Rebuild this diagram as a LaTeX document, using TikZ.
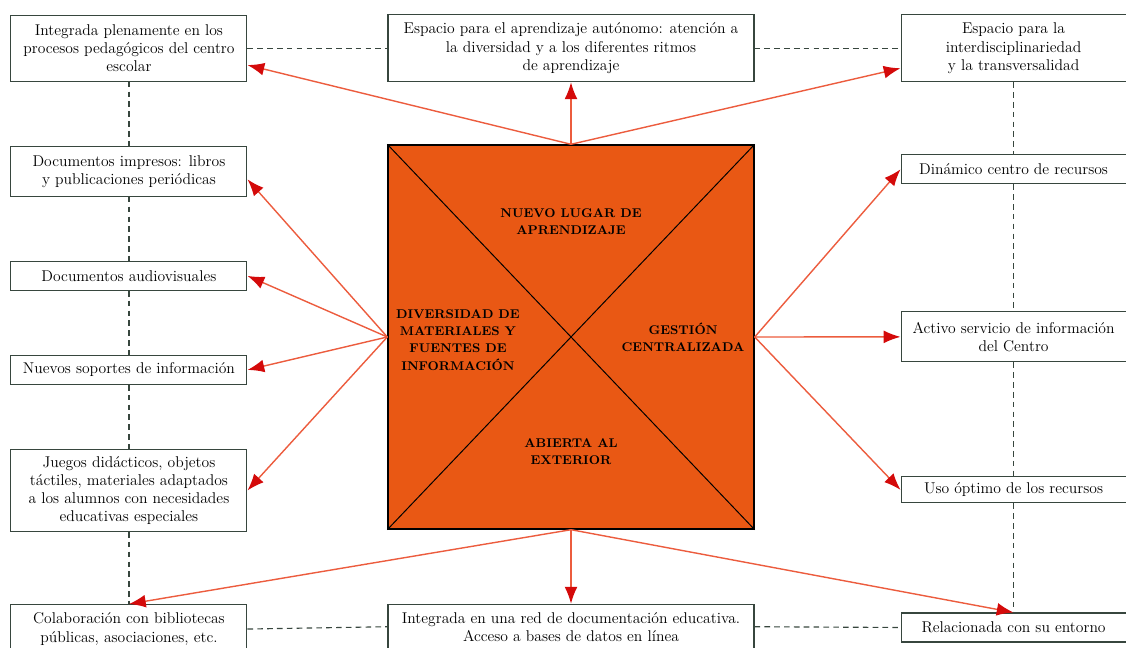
\documentclass[tikz,border=0pt]{standalone}
\usepackage{tikz}
\usetikzlibrary{positioning,arrows.meta}
\definecolor{sqorange}{RGB}{233,88,20}
\definecolor{arrowline}{RGB}{236,92,62}
\definecolor{arrowred}{RGB}{212,10,10}
\definecolor{boxline}{RGB}{55,70,62}
\tikzset{every node/.style={align=center, font=\fontsize{11.1}{12.9}\selectfont}, >={Latex[length=4.2mm,width=3.2mm,color=arrowred]}}
\tikzset{
  infobox/.style={draw=boxline, line width=0.75pt, fill=white, minimum width=5.9cm, inner sep=1pt},
  sqtext/.style={font=\fontsize{9}{12.3}\selectfont\bfseries},
  arr/.style={->, draw=arrowline, line width=1pt},
  dotline/.style={draw=boxline, dash pattern=on 4pt off 3pt, line width=0.8pt}
}

\begin{document}
\begin{tikzpicture}[node distance=1.6cm]
  \useasboundingbox (0,0) rectangle (28.15,16.2);
  % central square
  \node [draw=black, line width=1pt, fill=sqorange, minimum width=9.15cm, minimum height=9.6cm, inner sep=0] (sq) at (14.275,7.775) {};
  \draw [line width=0.7pt] (sq.north west) -- (sq.south east) (sq.north east) -- (sq.south west);
  \node [sqtext] (nuevo) at ([yshift=2.875cm]sq.center) {NUEVO LUGAR DE\\APRENDIZAJE};
  \node [sqtext] (divers) at ([xshift=-2.825cm,yshift=-0.075cm]sq.center) {DIVERSIDAD DE\\MATERIALES Y\\FUENTES DE\\INFORMACIÓN};
  \node [sqtext] (gestion) at ([xshift=2.8cm]sq.center) {GESTIÓN\\CENTRALIZADA};
  \node [sqtext] (abierta) at ([yshift=-2.875cm]sq.center) {ABIERTA AL\\EXTERIOR};

  % top and bottom boxes
  \node [infobox, minimum width=9.15cm, minimum height=1.675cm] (tc) [above=1.55cm of sq] {Espacio para el aprendizaje autónomo: atención a\\la diversidad y a los diferentes ritmos\\de aprendizaje};
  \node [infobox, minimum width=9.15cm, minimum height=1.125cm] (bc) [below=1.85cm of sq] {Integrada en una red de documentación educativa.\\Acceso a bases de datos en línea};

  % left column
  \node [infobox, minimum height=1.65cm] (l1) [left=3.5cm of tc] {Integrada plenamente en los\\procesos pedagógicos del centro\\escolar};
  \node [infobox, minimum height=1.25cm] (l2) [below=of l1] {Documentos impresos: libros\\y publicaciones periódicas};
  \node [infobox, minimum height=0.725cm] (l3) [below=of l2] {Documentos audiovisuales};
  \node [infobox, minimum height=0.725cm] (l4) [below=of l3] {Nuevos soportes de información};
  \node [infobox, minimum height=2.05cm] (l5) [below=of l4] {Juegos didácticos, objetos\\táctiles, materiales adaptados\\a los alumnos con necesidades\\educativas especiales};
  \node [infobox, minimum height=1.225cm] (l6) [below=1.8cm of l5] {Colaboración con bibliotecas\\públicas, asociaciones, etc.};

  % right column
  \node [infobox, minimum width=5.625cm, minimum height=1.675cm] (tr) [right=3.65cm of tc] {Espacio para la\\interdisciplinariedad\\y la transversalidad};
  \node [infobox, minimum width=5.625cm, minimum height=0.725cm] (rd) [below=1.8cm of tr] {Dinámico centro de recursos};
  \node [infobox, minimum width=5.625cm, minimum height=1.25cm] (ra) [below=3.175cm of rd] {Activo servicio de información\\del Centro};
  \node [infobox, minimum width=5.625cm, minimum height=0.65cm] (ru) [below=2.85cm of ra] {Uso óptimo de los recursos};
  \node [infobox, minimum width=5.625cm, minimum height=0.725cm] (rr) [below=2.725cm of ru] {Relacionada con su entorno};

  % dashed frame
  \draw [dotline] (l1) -- (l2) (l2) -- (l3) (l3) -- (l4) (l4) -- (l5) (l5) -- (l6);
  \draw [dotline] (tr) -- (rd) (rd) -- (ra) (ra) -- (ru) (ru) -- (rr);
  \draw [dotline] (l1.east) -- (tc.west) (tc.east) -- (tr.west);
  \draw [dotline] (l6.east) -- (bc.west) (bc.east) -- (rr.west);

  % arrows from the square
  \draw [arr] (sq.north) -- ([yshift=-0.42cm]l1.east);
  \draw [arr] (sq.north) -- (tc.south);
  \draw [arr] (sq.north) -- ([yshift=-0.5cm]tr.west);
  \draw [arr] (sq.west) -- ([yshift=-0.2cm]l2.east);
  \draw [arr] (sq.west) -- (l3.east);
  \draw [arr] (sq.west) -- (l4.east);
  \draw [arr] (sq.west) -- (l5.east);
  \draw [arr] (sq.east) -- (rd.west);
  \draw [arr] (sq.east) -- (ra.west);
  \draw [arr] (sq.east) -- (ru.west);
  \draw [arr] (sq.south) -- (l6.north);
  \draw [arr] (sq.south) -- (bc.north);
  \draw [arr] (sq.south) -- (rr.north);
\end{tikzpicture}
\end{document}
